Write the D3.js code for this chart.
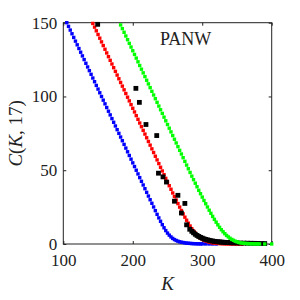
<!DOCTYPE html>
<html>
<head>
<meta charset="utf-8">
<script src="https://cdn.jsdelivr.net/npm/d3@7"></script>
<style>
  body { margin: 0; background: #fff; }
  text { font-family: "Liberation Serif", "DejaVu Serif", serif; fill: #222; }
</style>
</head>
<body>
<div id="vis_container"></div>
<script>
// strikes and model prices
var blueK = [105,107.5,110,112.5,115,117.5,120,122.5,125,127.5,130,132.5,135,137.5,140,142.5,145,147.5,150,152.5,
  155,157.5,160,162.5,165,167.5,170,172.5,175,177.5,180,182.5,185,187.5,190,192.5,195,197.5,200,202.5,
  205,207.5,210,212.5,215,217.5,220,222.5,225,227.5,230,232.5,235,237.5,240,242.5,245,247.5,250,252.5,
  255,257.5,260,262.5,265,267.5,270,272.5,275,277.5,280,282.5,285,287.5,290,292.5,295,297.5,300,305,310,315,320];
var blueC = [150,147.5,145,142.5,140,137.5,135,132.5,130,127.5,125,122.5,120,117.5,115,112.5,110,107.5,105,102.5,
  100,97.5,95,92.5,90,87.5,85,82.5,80,77.5,75,72.5,70,67.5,65,62.5,60,57.5,55,52.5,
  50,47.5,45,42.5,40,37.5,35,32.5,30,27.6,25.1,22.6,20.1,17.7,15.4,13.1,11.0,9.1,7.4,6.0,
  4.8,3.8,3.0,2.4,1.9,1.5,1.2,1.0,0.8,0.6,0.5,0.4,0.3,0.25,0.2,0.15,0.1,0.08,0.06,0.04,0.03,0.02,0.01];

var redK = [142.5,145,147.5,150,152.5,155,157.5,160,162.5,165,167.5,170,172.5,175,177.5,180,182.5,185,187.5,190,
  192.5,195,197.5,200,202.5,205,207.5,210,212.5,215,217.5,220,222.5,225,227.5,230,232.5,235,237.5,240,
  242.5,245,247.5,250,252.5,255,257.5,260,262.5,265,267.5,270,272.5,275,277.5,280,282.5,285,287.5,290,
  292.5,295,297.5,300,302.5,305,307.5,310,312.5,315,317.5,320,322.5,325,327.5,330,332.5,335,337.5,340,
  342.5,345,347.5,350,352.5,355,357.5];
var redC = [149.5,147,144.5,142,139.5,137,134.5,132,129.5,127,124.5,122,119.5,117,114.5,112,109.5,107,104.5,102,
  99.5,97,94.5,92,89.5,87,84.5,82,79.5,77,74.5,72,69.5,67,64.5,62,59.5,57,54.5,52,
  49.5,47,44.5,42,39.5,37.1,34.6,32.2,29.8,27.4,25.0,22.7,20.4,18.2,16.1,14.1,12.2,10.4,8.8,7.4,
  6.1,5.0,4.0,3.2,2.6,2.1,1.7,1.3,1.0,0.8,0.6,0.5,0.4,0.3,0.25,0.2,0.15,0.12,0.1,0.08,
  0.06,0.05,0.04,0.03,0.02,0.02,0.01];

var greenK = [182.5,185,187.5,190,192.5,195,197.5,200,202.5,205,207.5,210,212.5,215,217.5,220,222.5,225,227.5,230,
  232.5,235,237.5,240,242.5,245,247.5,250,252.5,255,257.5,260,262.5,265,267.5,270,272.5,275,277.5,280,
  282.5,285,287.5,290,292.5,295,297.5,300,302.5,305,307.5,310,312.5,315,317.5,320,322.5,325,327.5,330,
  332.5,335,337.5,340,342.5,345,347.5,350,352.5,355,357.5,360,362.5,365,367.5,370,372.5,375,377.5,380,
  382.5,390,400];
var greenC = [148.5,146,143.5,141,138.5,136,133.5,131,128.5,126,123.5,121,118.5,116,113.5,111,108.5,106,103.5,101,
  98.5,96,93.5,91,88.5,86,83.5,81,78.5,76,73.5,71,68.5,66,63.5,61,58.5,56,53.5,51,
  48.5,46,43.6,41.2,38.8,36.4,34.1,31.8,29.5,27.3,25.1,22.9,20.8,18.7,16.7,14.8,13.0,11.3,9.7,8.3,
  7.0,5.8,4.8,3.9,3.1,2.5,1.9,1.5,1.1,0.8,0.6,0.5,0.4,0.3,0.25,0.2,0.15,0.12,0.1,0.08,
  0.06,0.03,0.01];

// market prices (black squares)
var mktK = [149.5,204.5,209.5,219,234.5,237,243.5,248.5,260,265,270,275,277.5,282,285,287.5,290,292.5,295,297.5,
  300,302.5,305,307.5,310,312.5,315,317.5,320,322.5,325,327.5,330,332.5,335,337.5,340,342.5,345,350,
  355,360,365,370,375,380,385,390];
var mktC = [148.9,105.5,96,81,73.5,48,45.5,42,29,33,21,27.5,13,10,8.6,7.6,6.6,5.8,5.1,4.5,
  4.0,3.5,3.1,2.8,2.5,2.2,2.0,1.8,1.6,1.5,1.4,1.3,1.2,1.1,1.0,0.95,0.9,0.85,0.8,0.7,
  0.65,0.6,0.55,0.5,0.45,0.4,0.35,0.3];

var xTicks = [100, 200, 300, 400];
var yTicks = [0, 50, 100, 150];

var width = 300, height = 300;
var plotLeft = 63.3, plotRight = 271.7, plotTop = 22.7, plotBottom = 244;

var svg = d3.select("#vis_container")
    .append("svg")
    .attr("width", width)
    .attr("height", height);

var x = d3.scaleLinear().domain([100, 400]).range([plotLeft, plotRight]);
var y = d3.scaleLinear().domain([0, 150]).range([plotBottom, plotTop]);

// box with inward ticks on all four sides
svg.append("g")
    .attr("transform", "translate(0," + plotBottom + ")")
    .call(d3.axisBottom(x).tickValues(xTicks).tickSize(-3).tickPadding(10).tickFormat(d3.format("d")))
    .call(function (g) { g.select(".domain").remove(); });
svg.append("g")
    .attr("transform", "translate(0," + plotTop + ")")
    .call(d3.axisTop(x).tickValues(xTicks).tickSize(-3).tickFormat(""))
    .call(function (g) { g.select(".domain").remove(); });
svg.append("g")
    .attr("transform", "translate(" + plotLeft + ",0)")
    .call(d3.axisLeft(y).tickValues(yTicks).tickSize(-3).tickPadding(6).tickFormat(d3.format("d")))
    .call(function (g) { g.select(".domain").remove(); });
svg.append("g")
    .attr("transform", "translate(" + plotRight + ",0)")
    .call(d3.axisRight(y).tickValues(yTicks).tickSize(-3).tickFormat(""))
    .call(function (g) { g.select(".domain").remove(); });

svg.selectAll(".tick text")
    .style("font-family", "'Liberation Serif', serif")
    .style("font-size", "17px")
    .attr("fill", "#222");
svg.selectAll(".tick line").attr("stroke", "#222");

svg.append("rect")
    .attr("x", plotLeft).attr("y", plotTop)
    .attr("width", plotRight - plotLeft).attr("height", plotBottom - plotTop)
    .attr("fill", "none").attr("stroke", "#222").attr("stroke-width", 1);

function squares(ks, cs, color, s) {
  var pts = ks.map(function (k, i) { return [k, cs[i]]; });
  svg.append("g").selectAll("rect")
    .data(pts)
    .enter().append("rect")
    .attr("x", function (d) { return x(d[0]) - s / 2; })
    .attr("y", function (d) { return y(d[1]) - s / 2; })
    .attr("width", s).attr("height", s)
    .attr("fill", color);
}

squares(blueK, blueC, "#0000ff", 3.4);
squares(redK, redC, "#ff0000", 3.4);
squares(mktK, mktC, "#000000", 4.8);
squares(greenK, greenC, "#00ff00", 3.4);

svg.append("text")
    .attr("x", 160).attr("y", 45)
    .style("font-size", "18px")
    .text("PANW");

svg.append("text")
    .attr("x", (plotLeft + plotRight) / 2).attr("y", 290)
    .attr("text-anchor", "middle")
    .style("font-size", "19px")
    .style("font-style", "italic")
    .text("K");

var ylab = svg.append("text")
    .attr("transform", "translate(22," + ((plotTop + plotBottom) / 2) + ") rotate(-90)")
    .attr("text-anchor", "middle")
    .style("font-size", "19px");
ylab.append("tspan").style("font-style", "italic").text("C");
ylab.append("tspan").text("(");
ylab.append("tspan").style("font-style", "italic").text("K");
ylab.append("tspan").text(", 17)");
</script>
</body>
</html>
